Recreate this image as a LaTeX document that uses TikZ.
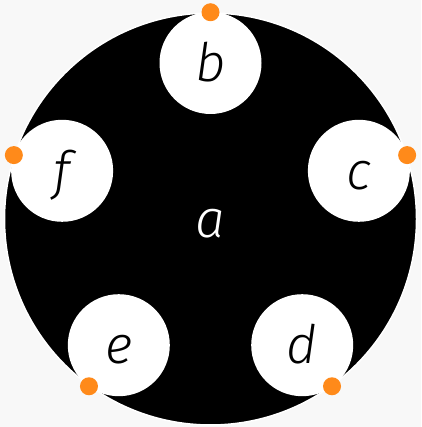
\documentclass[tikz,border=0pt]{standalone}
\usepackage{fontspec}
\setmainfont{Fira Sans}[UprightFont=* Light, ItalicFont=* Light Italic]
\usepackage{tikz}
\definecolor{pagegray}{HTML}{F8F8F8}
\definecolor{pinorange}{HTML}{FF8A1A}

\begin{document}
\begin{tikzpicture}[
    x=1pt, y=1pt,
    letter/.style={font=\fontsize{53}{60}\selectfont\itshape, text height=37pt, text depth=0pt},
    disc/.style={circle, draw=white, line width=1.5pt, fill=black, text=white,
      minimum size=412pt, inner sep=0pt, letter},
    hole/.style={circle, fill=white, text=black, minimum size=102pt, inner sep=0pt, letter},
    pin/.style={circle, fill=pinorange, minimum size=18pt, inner sep=0pt}
  ]
  \useasboundingbox[fill=pagegray] (0,0) rectangle (421,427);
  \node[disc] (a) at (210.5,208) {a};
  % small discs touching the rim, one orange pin at each touch point
  \foreach \ang/\lab in {90/b, 18/c, -54/d, -126/e, 162/f} {
    \node[hole] (\lab) at ([shift={(\ang:156)}]a.center) {\lab};
    \node[pin] (pin-\lab) at (a.\ang) {};
  }
\end{tikzpicture}
\end{document}
